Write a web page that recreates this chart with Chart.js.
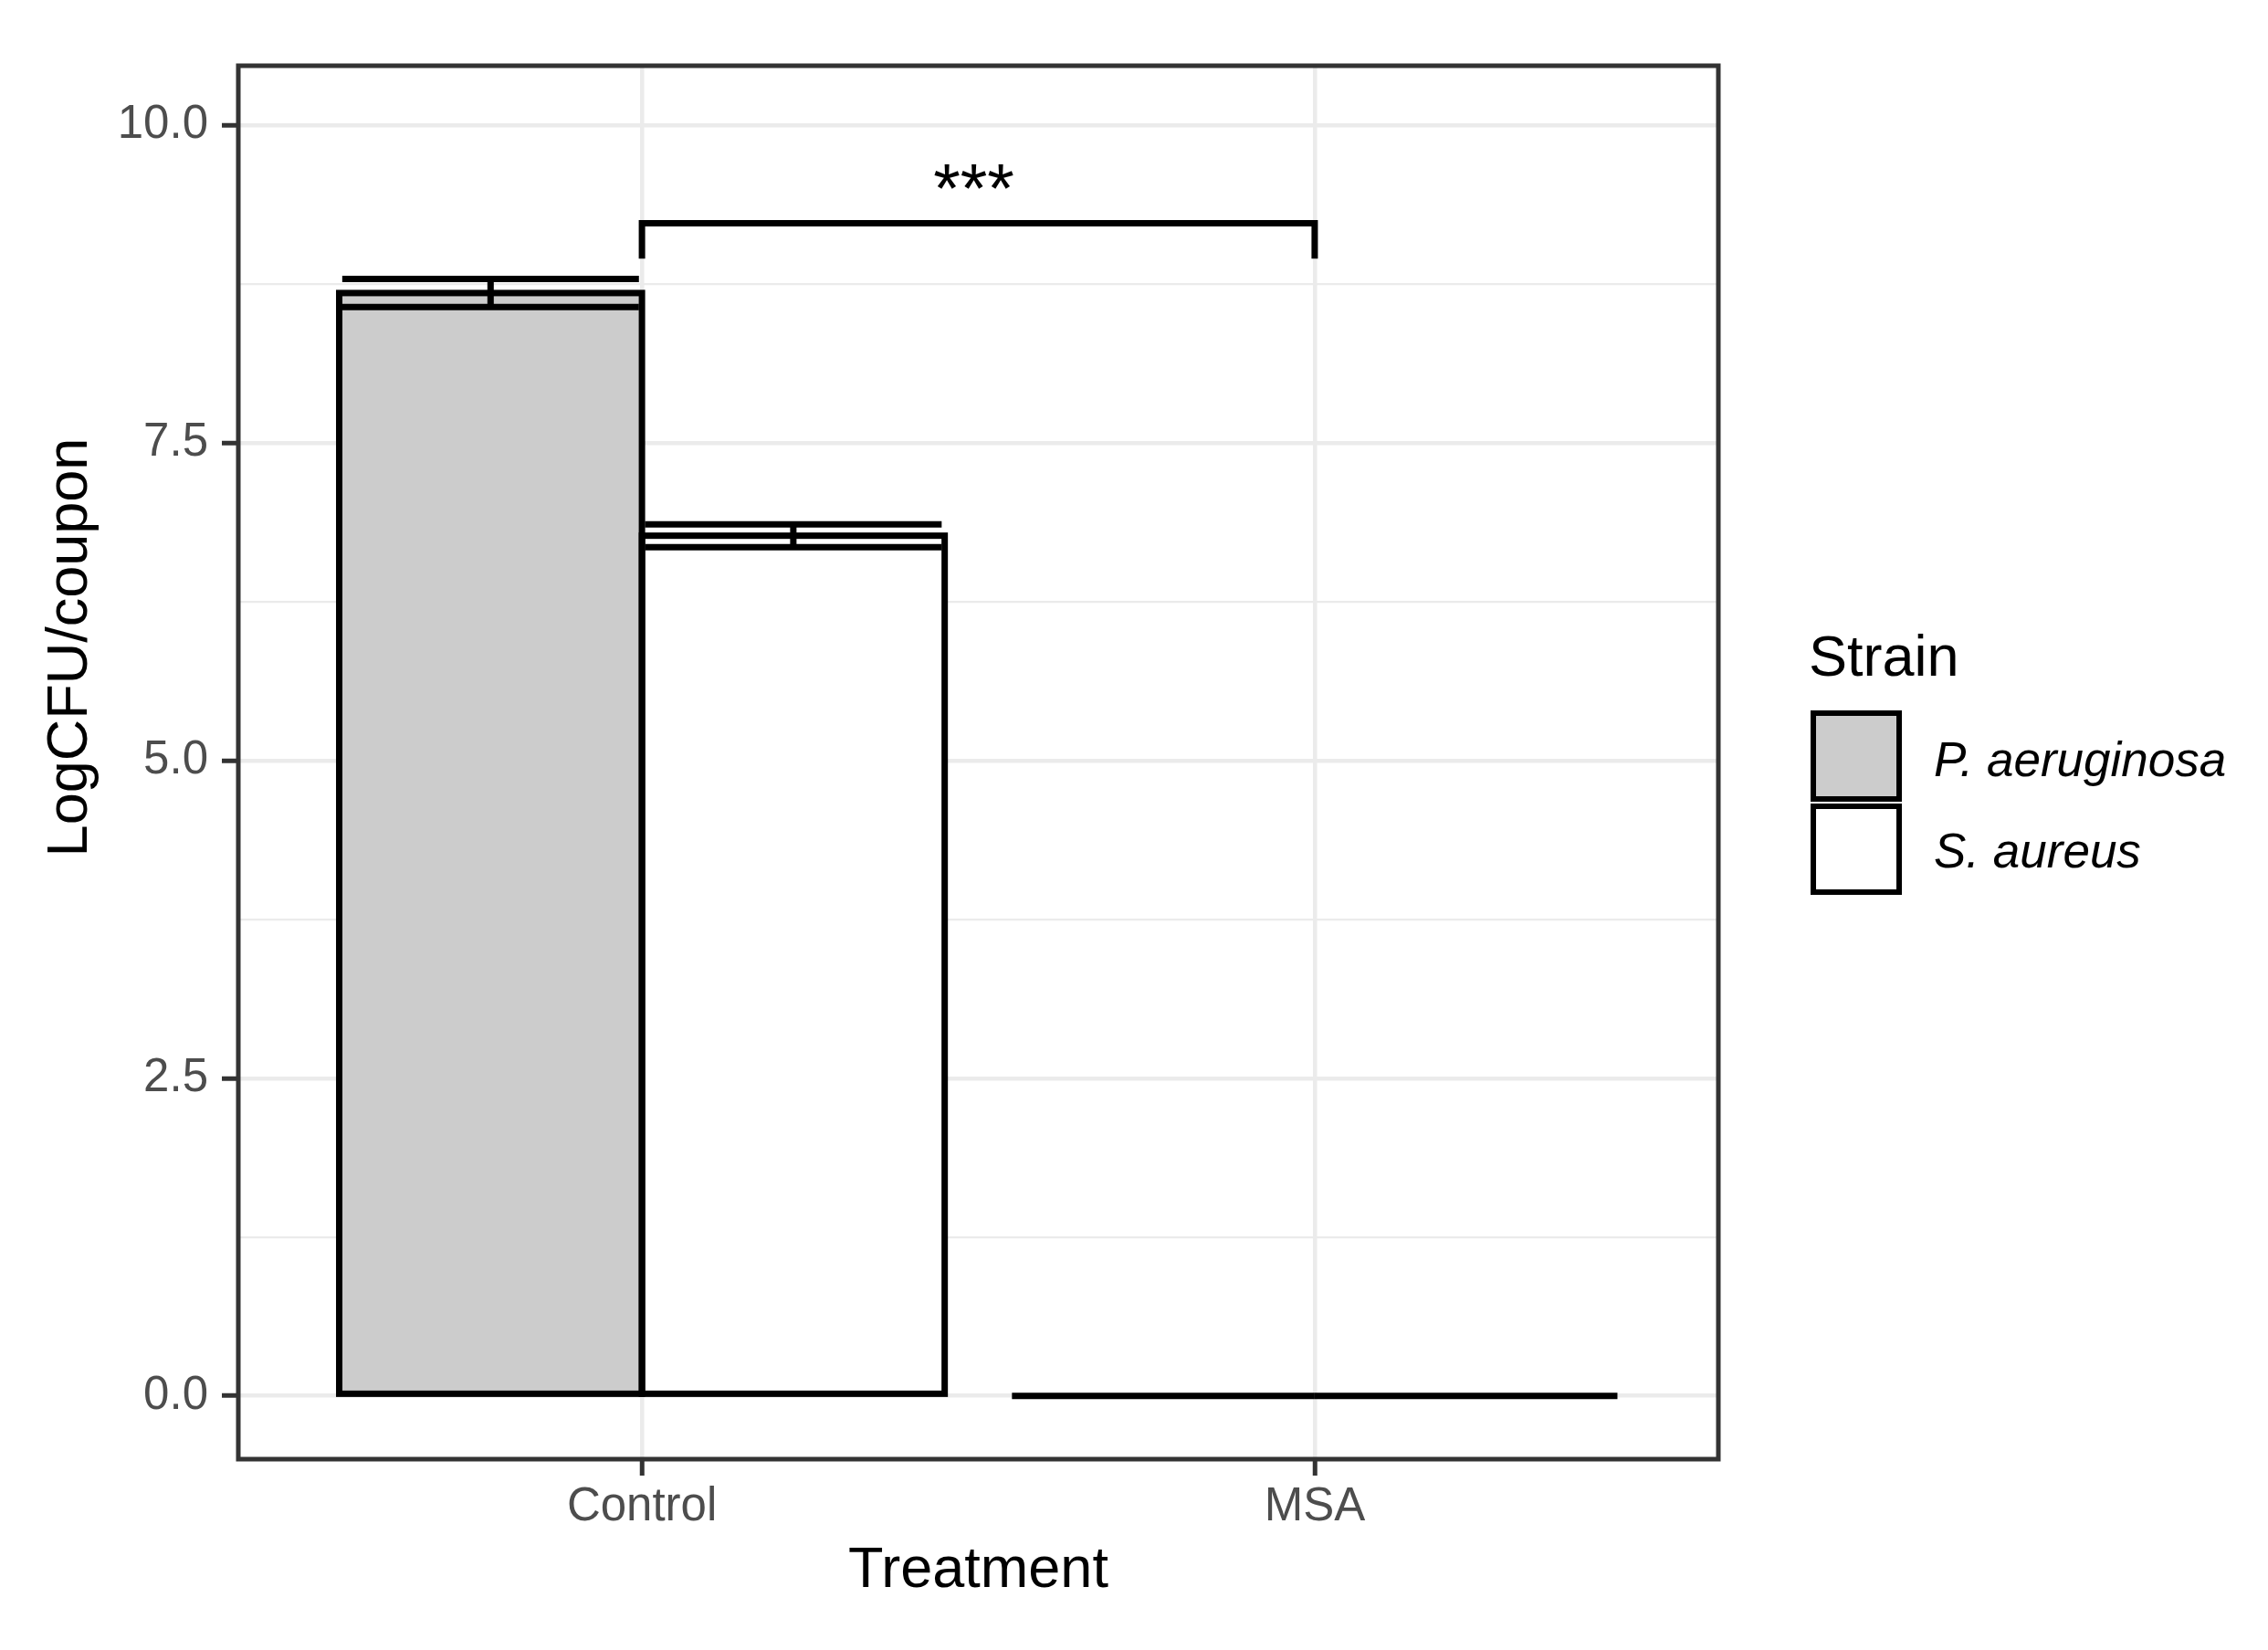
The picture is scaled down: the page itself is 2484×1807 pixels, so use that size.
<!DOCTYPE html>
<html>
<head>
<meta charset="utf-8">
<script src="https://cdn.jsdelivr.net/npm/chart.js@4.4.1/dist/chart.umd.min.js"></script>
<style>
  html, body { margin: 0; padding: 0; background: #ffffff; }
  #wrap { width: 2484px; height: 1807px; }
</style>
</head>
<body>
<div id="wrap"><canvas id="c" width="2484" height="1807"></canvas></div>
<script>
// ---- data ----
const categories = ['Control', 'MSA'];
const strains = ['P. aeruginosa', 'S. aureus'];
const strainFills = ['#cccccc', '#ffffff'];
const paMean = [8.68, 0];
const paLow  = [8.57, null];
const paHigh = [8.79, null];
const saMean = [6.77, 0];
const saLow  = [6.68, null];
const saHigh = [6.86, null];
const yMajorTicks = [0, 2.5, 5, 7.5, 10];
const yRange = [-0.4986, 10.469];
const xRange = [-0.6, 1.6];
const bracketFrom = 'Control';
const bracketTo = 'MSA';
const bracketY = 9.23;
const bracketTipY = 8.95;
const bracketLabel = '***';
const bracketLabelY = 9.32;
const xTitle = 'Treatment';
const yTitle = 'LogCFU/coupon';
const legendTitle = 'Strain';

const FONT = '"Liberation Sans", Arial, Helvetica, sans-serif';
const LW = 7;
const yMinorTicks = yMajorTicks.slice(0, -1).map((v, i) => (v + yMajorTicks[i + 1]) / 2);
const yAllTicks = yMajorTicks.concat(yMinorTicks).sort((a, b) => a - b);
const isMajor = v => yMajorTicks.some(m => Math.abs(m - v) < 1e-9);

const means = [paMean, saMean];
const lows = [paLow, saLow];
const highs = [paHigh, saHigh];

const overlay = {
  id: 'overlay',
  afterDatasetsDraw(chart) {
    const ctx = chart.ctx;
    const ys = chart.scales.y, xs = chart.scales.x;
    ctx.save();
    // bar outlines
    ctx.strokeStyle = '#000000';
    ctx.lineWidth = LW;
    ctx.lineJoin = 'miter';
    chart.data.datasets.forEach((ds, di) => {
      const meta = chart.getDatasetMeta(di);
      meta.data.forEach(el => {
        const w = el.width;
        ctx.strokeRect(el.x - w / 2, el.y, w, el.base - el.y);
      });
    });
    // error bars
    chart.data.datasets.forEach((ds, di) => {
      const meta = chart.getDatasetMeta(di);
      meta.data.forEach((el, i) => {
        const lo = lows[di][i], hi = highs[di][i];
        if (lo == null || hi == null) return;
        const yl = ys.getPixelForValue(lo), yh = ys.getPixelForValue(hi);
        const hw = el.width * 0.98 / 2;
        ctx.beginPath();
        ctx.moveTo(el.x - hw, yh); ctx.lineTo(el.x + hw, yh);
        ctx.moveTo(el.x - hw, yl); ctx.lineTo(el.x + hw, yl);
        ctx.moveTo(el.x, yh); ctx.lineTo(el.x, yl);
        ctx.stroke();
      });
    });
    // significance bracket
    const x1 = xs.getPixelForValue(categories.indexOf(bracketFrom));
    const x2 = xs.getPixelForValue(categories.indexOf(bracketTo));
    const yb = ys.getPixelForValue(bracketY), yt = ys.getPixelForValue(bracketTipY);
    ctx.lineCap = 'butt';
    ctx.beginPath();
    ctx.moveTo(x1, yt); ctx.lineTo(x1, yb); ctx.lineTo(x2, yb); ctx.lineTo(x2, yt);
    ctx.stroke();
    ctx.fillStyle = '#000000';
    ctx.font = '76px ' + FONT;
    ctx.textAlign = 'center';
    ctx.textBaseline = 'alphabetic';
    ctx.fillText(bracketLabel, (x1 + x2) / 2 - 5, ys.getPixelForValue(bracketLabelY));
    ctx.restore();
  },
  afterDraw(chart) {
    const ctx = chart.ctx;
    const a = chart.chartArea;
    ctx.save();
    // panel border
    ctx.strokeStyle = '#333333';
    ctx.lineWidth = 5;
    ctx.strokeRect(a.left, a.top, a.right - a.left, a.bottom - a.top);
    // axis titles
    ctx.fillStyle = '#000000';
    ctx.font = '63px ' + FONT;
    ctx.textAlign = 'center';
    ctx.textBaseline = 'alphabetic';
    ctx.fillText(xTitle, (a.left + a.right) / 2, 1738);
    ctx.save();
    ctx.translate(95, 709);
    ctx.rotate(-Math.PI / 2);
    ctx.fillText(yTitle, 0, 0);
    ctx.restore();
    // legend
    ctx.textAlign = 'left';
    ctx.fillText(legendTitle, 1981, 740);
    const keyX = 1986, keyY = 781, keySize = 94, pitch = 102;
    ctx.lineWidth = 6;
    ctx.strokeStyle = '#000000';
    strains.forEach((s, i) => {
      const y = keyY + i * pitch;
      ctx.fillStyle = strainFills[i];
      ctx.fillRect(keyX, y, keySize, keySize);
      ctx.strokeRect(keyX, y, keySize, keySize);
      ctx.fillStyle = '#000000';
      ctx.font = 'italic 53px ' + FONT;
      ctx.fillText(s, 2118, 850 + i * 100);
    });
    ctx.restore();
  }
};

new Chart(document.getElementById('c'), {
  type: 'bar',
  data: {
    datasets: strains.map((s, di) => ({
      label: s,
      data: means[di].map((v, i) => ({ x: i, y: v })),
      backgroundColor: strainFills[di],
      borderWidth: 0,
      categoryPercentage: 0.9,
      barPercentage: 1.0
    }))
  },
  options: {
    responsive: false,
    animation: false,
    devicePixelRatio: 1,
    layout: { padding: { left: 0, top: 72, right: 602, bottom: 89 } },
    plugins: { legend: { display: false }, tooltip: { enabled: false } },
    scales: {
      x: {
        type: 'linear',
        min: xRange[0], max: xRange[1],
        offset: false,
        afterBuildTicks(scale) { scale.ticks = categories.map((c, i) => ({ value: i })); },
        afterFit(scale) { scale.height = 120; },
        grid: {
          offset: false,
          color: '#ebebeb', lineWidth: 4.5,
          drawTicks: true, tickLength: 18, tickColor: '#333333', tickWidth: 5
        },
        border: { display: false },
        ticks: {
          autoSkip: false, maxRotation: 0, padding: 4,
          color: '#4d4d4d', font: { family: FONT, size: 51 },
          callback: v => categories[v] !== undefined ? categories[v] : ''
        }
      },
      y: {
        type: 'linear',
        min: yRange[0], max: yRange[1],
        afterBuildTicks(scale) { scale.ticks = yAllTicks.map(v => ({ value: v })); },
        afterFit(scale) { scale.width = 261; },
        grid: {
          color: '#ebebeb',
          lineWidth: c => isMajor(c.tick.value) ? 4.5 : 2.2,
          drawTicks: true, tickLength: 18,
          tickColor: c => isMajor(c.tick.value) ? '#333333' : 'rgba(0,0,0,0)',
          tickWidth: 5
        },
        border: { display: false },
        ticks: {
          autoSkip: false, padding: 15,
          color: '#4d4d4d', font: { family: FONT, size: 51 },
          callback: v => isMajor(v) ? v.toFixed(1) : ''
        }
      }
    }
  },
  plugins: [overlay]
});
</script>
</body>
</html>
